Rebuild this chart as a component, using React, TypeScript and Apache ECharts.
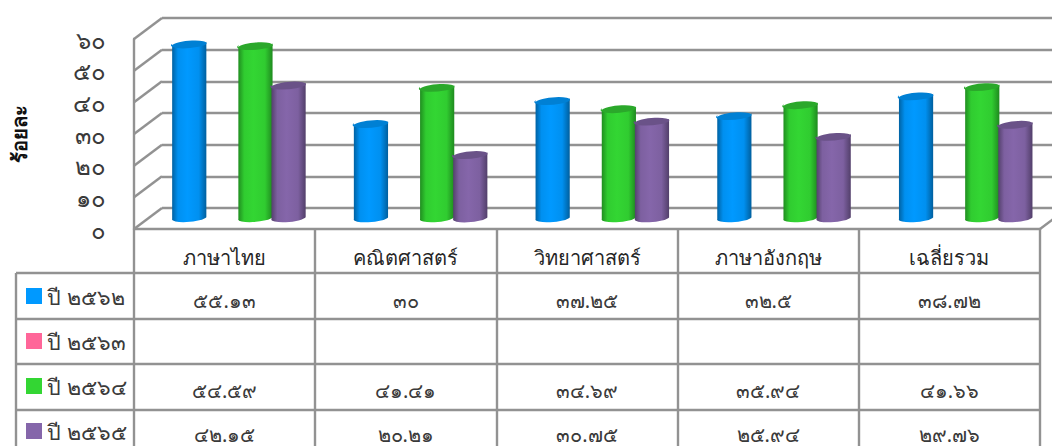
import React, { useEffect, useRef } from "react";
import * as echarts from "echarts";

const categories = ["ภาษาไทย", "คณิตศาสตร์", "วิทยาศาสตร์", "ภาษาอังกฤษ", "เฉลี่ยรวม"];
const seriesNames = ["ปี ๒๕๖๒", "ปี ๒๕๖๓", "ปี ๒๕๖๔", "ปี ๒๕๖๕"];
const values2562 = [55.13, 30, 37.25, 32.5, 38.72];
const values2563 = [null, null, null, null, null];
const values2564 = [54.59, 41.41, 34.69, 35.94, 41.66];
const values2565 = [42.15, 20.21, 30.75, 25.94, 29.76];
const yTicks = [0, 10, 20, 30, 40, 50, 60];
const axisTitle = "ร้อยละ";

const palette = [
  { base: "#0099ff", top: "#0080d4", edge: "#005f9e", soft: "#0090f0" },
  { base: "#ff6699", top: "#d4557f", edge: "#9e3f5f", soft: "#f06090" },
  { base: "#33d633", top: "#2ba82b", edge: "#1f8a1f", soft: "#30cc30" },
  { base: "#8566aa", top: "#6a5288", edge: "#523f6a", soft: "#7d60a0" },
];

const FONT = "'Noto Sans', 'DejaVu Sans', sans-serif";
const GRID_COLOR = "#929292";
const LINE_W = 2.4;
const TEXT_COLOR = "#3a3a3a";
const FRONT = { left: 134, right: 1040, top: 39, bottom: 229 };
const DX = 28;
const DY = 21;
const TABLE_LEFT = 16;
const ROW_LINES = [273, 319, 364, 410];
const ROW_CENTERS = [300, 345, 390, 434];

const THAI = "๐๑๒๓๔๕๖๗๘๙";
const toThai = (v: number | string | null) =>
  v === null ? "" : String(v).replace(/[0-9]/g, (d) => THAI[Number(d)]);

function App() {
  const ref = useRef<HTMLDivElement>(null);
  useEffect(() => {
    document.body.style.margin = "0";
    const chart = echarts.init(ref.current!, undefined, { renderer: "svg" });
    const allValues = [values2562, values2563, values2564, values2565];
    const colW = (FRONT.right - FRONT.left) / categories.length;
    const W = FRONT.right - FRONT.left;
    const H = FRONT.bottom - FRONT.top;

    const barSeries = seriesNames.map((name, si) => ({
      name,
      type: "custom",
      xAxisIndex: 1,
      yAxisIndex: 1,
      itemStyle: { color: palette[si].base },
      encode: { x: 0, y: 1 },
      data: allValues[si].map((v, i) => [i, v]),
      renderItem: (_p: any, api: any) => {
        const v = api.value(1);
        if (v === null || v === undefined || isNaN(v)) return { type: "group", children: [] };
        const c = api.value(0);
        const top = api.coord([c, v]);
        const base = api.coord([c, 0]);
        const cw = api.size([1, 0])[0];
        const cx = top[0] + (si - 1.5) * cw * 0.1822;
        const hw = cw * 0.0945;
        const l = cx - hw;
        const r = cx + hw;
        const tilt = 1.6;
        const rx = hw + 0.3;
        const ry = 4;
        const rot = -5.4;
        const p = palette[si];
        const body =
          `M${l} ${top[1] + tilt} L${l} ${base[1] + tilt} ` +
          `A${rx} ${ry} ${rot} 0 0 ${r} ${base[1] - tilt} ` +
          `L${r} ${top[1] - tilt} A${rx} ${ry} ${rot} 0 1 ${l} ${top[1] + tilt} Z`;
        const cap =
          `M${l} ${top[1] + tilt} A${rx} ${ry} ${rot} 0 1 ${r} ${top[1] - tilt} ` +
          `A${rx} ${ry} ${rot} 0 1 ${l} ${top[1] + tilt} Z`;
        return {
          type: "group",
          children: [
            {
              type: "path",
              shape: { pathData: body, x: l, y: top[1] - 6, width: r - l, height: base[1] - top[1] + 12 },
              style: {
                fill: {
                  type: "linear", x: 0, y: 0, x2: 1, y2: 0,
                  colorStops: [
                    { offset: 0, color: p.edge },
                    { offset: 0.18, color: p.soft },
                    { offset: 0.45, color: p.base },
                    { offset: 0.78, color: p.soft },
                    { offset: 1, color: p.edge },
                  ],
                },
              },
            },
            {
              type: "path",
              shape: { pathData: cap, x: l, y: top[1] - 6, width: r - l, height: 12 },
              style: { fill: p.top },
            },
          ],
        };
      },
    }));

    const wallSeries = {
      name: "wall",
      type: "custom",
      xAxisIndex: 0,
      yAxisIndex: 0,
      silent: true,
      z: 1,
      encode: { x: 0, y: 1 },
      data: yTicks.map((t) => [0, t]),
      renderItem: (params: any, api: any) => {
        const y = api.coord([0, api.value(1)])[1];
        const x = params.coordSys.x;
        return {
          type: "line",
          shape: { x1: x, y1: y, x2: x + DX, y2: y - DY },
          style: { stroke: GRID_COLOR, lineWidth: LINE_W },
        };
      },
    };

    const hLine = (x1: number, y: number, x2: number) => ({
      type: "line",
      silent: true,
      shape: { x1, y1: y, x2, y2: y },
      style: { stroke: GRID_COLOR, lineWidth: LINE_W },
    });

    const tableLines = ROW_LINES.map((y) => hLine(TABLE_LEFT, y, FRONT.right));
    const cellTexts = allValues.flatMap((vals, r) =>
      vals.map((v, c) => ({
        type: "text",
        silent: true,
        x: FRONT.left + colW * (c + 0.5),
        y: ROW_CENTERS[r],
        style: {
          text: toThai(v),
          fontSize: 20,
          fontFamily: FONT,
          lineHeight: 20,
          fill: TEXT_COLOR,
          textAlign: "center",
          textVerticalAlign: "middle",
        },
      }))
    );

    chart.setOption({
      animation: false,
      backgroundColor: "#ffffff",
      grid: [
        { left: FRONT.left, top: FRONT.top, width: W, height: H, outerBoundsMode: "none" },
        { left: FRONT.left + DX / 2, top: FRONT.top - DY / 2, width: W + 2.5, height: H, outerBoundsMode: "none" },
        { left: FRONT.left + DX, top: FRONT.top - DY, width: W, height: H, outerBoundsMode: "none" },
      ],
      xAxis: [
        {
          gridIndex: 0,
          type: "category",
          data: categories,
          axisLine: { lineStyle: { color: GRID_COLOR, width: LINE_W } },
          axisTick: { show: true, length: 217, lineStyle: { color: GRID_COLOR, width: LINE_W } },
          axisLabel: {
            margin: 18,
            fontSize: 20,
            fontFamily: FONT,
            color: "#262626",
            interval: 0,
          },
        },
        { gridIndex: 1, type: "category", data: categories, show: false },
        { gridIndex: 2, type: "category", data: categories, show: false },
      ],
      yAxis: [
        {
          gridIndex: 0,
          type: "value",
          min: 0,
          max: 60,
          interval: 10,
          name: axisTitle,
          nameLocation: "middle",
          nameGap: 105,
          nameRotate: 90,
          nameTextStyle: { fontSize: 20, fontWeight: "bold", fontFamily: FONT, color: "#111" },
          axisLine: { show: true, lineStyle: { color: GRID_COLOR, width: LINE_W } },
          axisTick: { show: false },
          splitLine: { show: false },
          axisLabel: {
            margin: 28,
            fontSize: 24,
            fontFamily: FONT,
            color: TEXT_COLOR,
            padding: [16, 0, 0, 0],
            formatter: (v: number) => toThai(v),
          },
        },
        { gridIndex: 1, type: "value", min: 0, max: 60, interval: 10, show: false },
        {
          gridIndex: 2,
          type: "value",
          min: 0,
          max: 60,
          interval: 10,
          axisLine: { show: false },
          axisTick: { show: false },
          axisLabel: { show: false },
          splitLine: { show: true, lineStyle: { color: GRID_COLOR, width: LINE_W } },
        },
      ],
      legend: {
        show: true,
        orient: "vertical",
        left: 26,
        top: 285,
        height: 300,
        padding: 0,
        itemWidth: 16,
        itemHeight: 16,
        itemGap: 23,
        selectedMode: false,
        data: seriesNames.map((name) => ({ name, icon: "rect" })),
        textStyle: { fontSize: 21.5, lineHeight: 22, fontFamily: FONT, color: TEXT_COLOR },
      },
      graphic: [
        {
          type: "line",
          silent: true,
          shape: { x1: FRONT.right, y1: FRONT.bottom, x2: FRONT.right + DX, y2: FRONT.bottom - DY },
          style: { stroke: GRID_COLOR, lineWidth: LINE_W },
        },
        {
          type: "line",
          silent: true,
          shape: { x1: TABLE_LEFT, y1: ROW_LINES[0], x2: TABLE_LEFT, y2: 446 },
          style: { stroke: GRID_COLOR, lineWidth: LINE_W },
        },
        ...tableLines,
        ...cellTexts,
      ],
      series: [wallSeries, ...barSeries],
    });
    return () => chart.dispose();
  }, []);
  return <div ref={ref} style={{ width: 1052, height: 446 }} />;
}

export default App;
